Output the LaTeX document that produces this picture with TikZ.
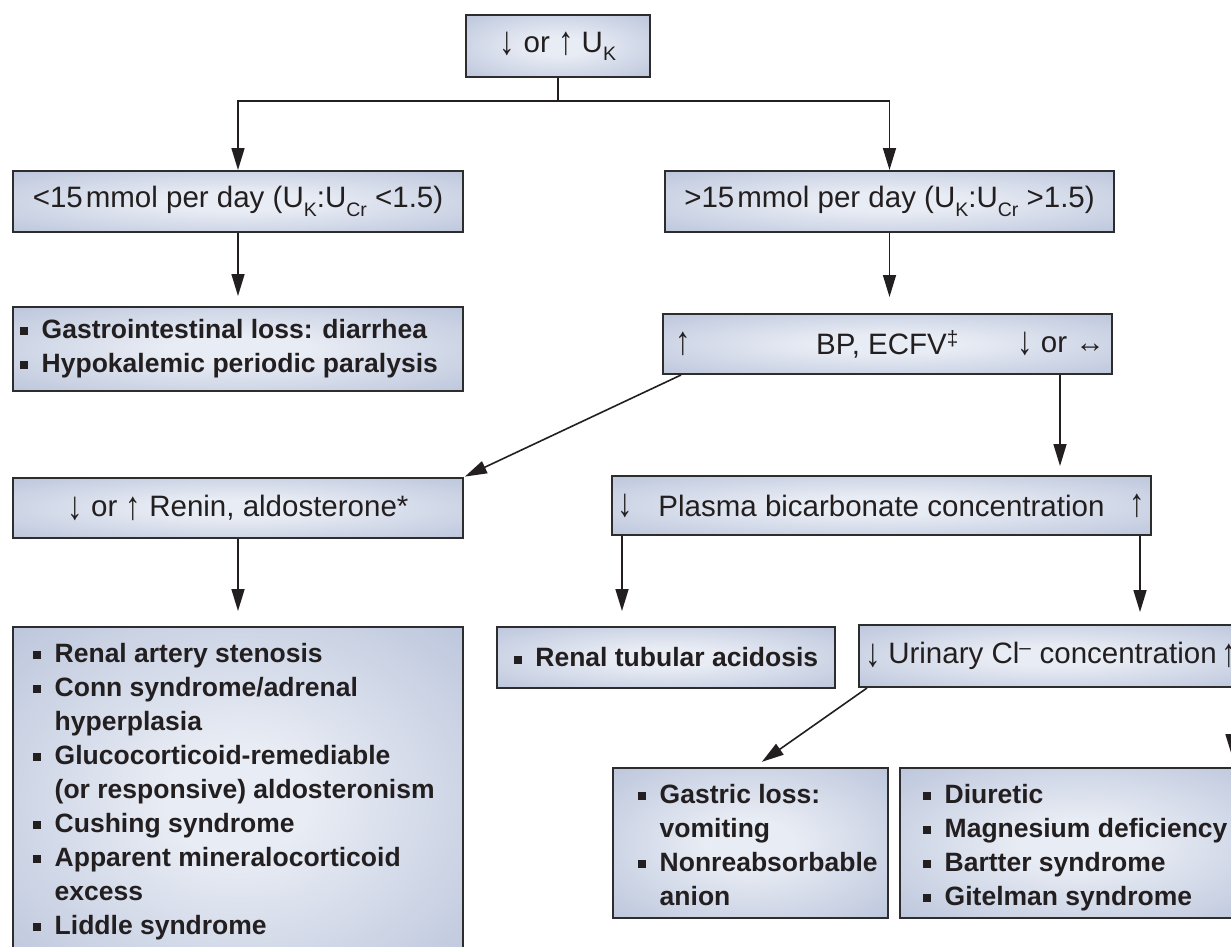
\documentclass[tikz,border=0pt]{standalone}
\usepackage{fontspec}
\usepackage{graphicx}
\setmainfont{Liberation Sans}
\usetikzlibrary{arrows.meta,calc}
\definecolor{cin}{RGB}{232,236,244}
\definecolor{cout}{RGB}{172,184,211}
\definecolor{edge}{RGB}{45,45,45}
\definecolor{ink}{RGB}{35,31,32}
\pgfdeclareradialshading{boxshade}{\pgfpoint{0bp}{0bp}}{color(0bp)=(cin); color(8bp)=(cin); color(46bp)=(cout); color(50bp)=(cout)}
\newcommand\dsub[1]{\raisebox{-0.28em}{\fontsize{19.5}{19.5}\selectfont #1}}
\newcommand\bul{\makebox[21.5pt][l]{\rule[3pt]{8pt}{8pt}}}
\newcommand\ind{\hspace*{21.5pt}}
\newcommand\dn{\raisebox{-2.5pt}{\scalebox{1.05}[1.35]{\bfseries ↓}}}
\newcommand\up{\raisebox{-2.5pt}{\scalebox{1.05}[1.35]{\bfseries ↑}}}
\newcommand\lr{{\bfseries ↔}}
\tikzset{
  box/.style={draw=edge, line width=2pt, shade, shading=boxshade, inner sep=0pt, rectangle, text=ink, font=\fontsize{29.5}{34}\selectfont},
  arr/.style={draw=ink, line width=1.6pt, -{Triangle[length=22pt,width=13pt]}},
  ln/.style={draw=ink, line width=1.6pt},
  txt/.style={font=\fontsize{29.5}{34}\selectfont, text=ink, inner sep=0pt},
  lst/.style={font=\bfseries\fontsize{26.5}{34}\selectfont, text=ink, inner sep=0pt, align=left, anchor=north west},
}
\begin{document}
\begin{tikzpicture}[x=1pt,y=-1pt]
\useasboundingbox (0,0) rectangle (1231,946);
\clip (0,0) rectangle (1231,946);
\fill[white] (0,0) rectangle (1231,946);
% boxes
\node[box, minimum width=184pt, minimum height=62pt] (top) at (558,46) {\dn\ or \up\ U\dsub{K}};
\node[box, minimum width=450pt, minimum height=61pt] (lt) at (238,201.5) {<15\hspace{3pt}mmol per day (U\dsub{K}:U\dsub{Cr} <1.5)};
\node[box, minimum width=449pt, minimum height=61pt] (rt) at (889.5,201.5) {>15\hspace{3pt}mmol per day (U\dsub{K}:U\dsub{Cr} >1.5)};
\node[box, minimum width=450pt, minimum height=84pt] (gi) at (238,349) {};
\node[box, minimum width=449pt, minimum height=60pt] (bp) at (887.5,344) {BP, ECFV\textsuperscript{‡}};
\node[box, minimum width=450pt, minimum height=60pt] (renin) at (238,508) {\dn\ or \up\ Renin, aldosterone*};
\node[box, minimum width=539pt, minimum height=59pt] (plasma) at (881.5,505.5) {Plasma bicarbonate concentration};
\node[box, minimum width=450pt, minimum height=346pt] (causes) at (238,800) {};
\node[box, minimum width=338pt, minimum height=61pt, font=\bfseries\fontsize{26.5}{34}\selectfont] (rta) at (666,657.5) {\bul Renal tubular acidosis};
\node[box, minimum width=387pt, minimum height=62pt] (urin) at (1052.5,656) {Urinary Cl\textsuperscript{–} concentration};
\node[box, minimum width=275pt, minimum height=150pt] (gastric) at (750.5,843) {};
\node[box, minimum width=360pt, minimum height=150pt] (diur) at (1080,843) {};
% side labels
\node[txt, anchor=west] (bpup) at ([xshift=13pt]bp.west) {\up};
\node[txt, anchor=east] (bpdn) at ([xshift=-8pt]bp.east) {\dn\ or \lr};
\node[txt, anchor=west] (pldn) at ([xshift=6pt]plasma.west) {\dn};
\node[txt, anchor=east] (plup) at ([xshift=-7pt]plasma.east) {\up};
\node[txt, anchor=west] (urdn) at ([xshift=7pt]urin.west) {\dn};
\node[txt, anchor=east] (urup) at ([xshift=-10pt]urin.east) {\up};
% lists
\node[lst] (gilist) at (20,319) {\bul Gastrointestinal loss: diarrhea\\ \bul Hypokalemic periodic paralysis};
\node[lst] (causelist) at (33,643) {\bul Renal artery stenosis\\ \bul Conn syndrome/adrenal\\ \ind hyperplasia\\ \bul Glucocorticoid-remediable\\ \ind (or responsive) aldosteronism\\ \bul Cushing syndrome\\ \bul Apparent mineralocorticoid\\ \ind excess\\ \bul Liddle syndrome};
\node[lst] (gaslist) at (638,784) {\bul Gastric loss:\\ \ind vomiting\\ \bul Nonreabsorbable\\ \ind anion};
\node[lst] (diurlist) at (923,784) {\bul Diuretic\\ \bul Magnesium deficiency\\ \bul Bartter syndrome\\ \bul Gitelman syndrome};
% connectors
\draw[ln] (top.south) -- ++(0,23) coordinate (split);
\draw[arr] (split) -| (lt.north);
\draw[arr] (split) -| (rt.north);
\draw[arr, shorten >=10pt] (lt.south) -- (gi.north);
\draw[arr, shorten >=16pt] (rt.south) -- (rt.south |- bp.north);
\draw[arr, shorten >=1pt] ([xshift=19pt]bp.south west) -- (renin.north east);
\draw[arr, shorten >=9pt] ([xshift=-53pt]bp.south east) -- ([xshift=-53pt]bp.south east |- plasma.north);
\draw[arr, shorten >=15pt] (renin.south) -- (causes.north);
\draw[arr, shorten >=15pt] ([xshift=11pt]plasma.south west) -- ([xshift=11pt]plasma.south west |- rta.north);
\draw[arr, shorten >=12pt] ([xshift=-12pt]plasma.south east) -- ([xshift=-12pt]plasma.south east |- urin.north);
\draw[arr, shorten >=9pt] ([xshift=9pt]urin.south west) -- ([xshift=4pt]gastric.north);
\coordinate (edgex) at (1232,0);
\draw[arr, shorten >=11pt] (urin.south -| edgex) -- (diur.north -| edgex);
\end{tikzpicture}
\end{document}
